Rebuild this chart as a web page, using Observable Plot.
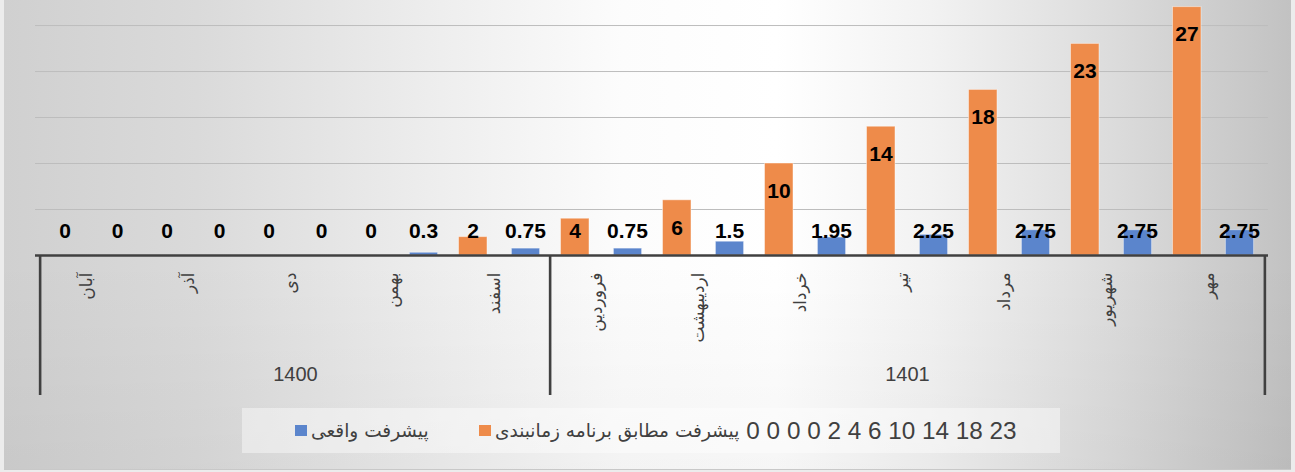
<!DOCTYPE html>
<html>
<head>
<meta charset="utf-8">
<script src="https://cdn.jsdelivr.net/npm/d3@7"></script>
<script src="https://cdn.jsdelivr.net/npm/@observablehq/plot@0.6"></script>
<style>
  html, body { margin: 0; padding: 0; background: #ececec; }
  #wrap { position: relative; width: 1295px; height: 472px; overflow: hidden; background: #ececec; }
  #bg { position: absolute; left: 4px; top: 0; width: 1287px; height: 469px;
    background:
      linear-gradient(to bottom, rgba(0,0,0,0) 55%, rgba(0,0,0,0.035) 100%),
      linear-gradient(to right, #d0d0d0 0%, #dadada 15%, #ececec 32%, #fcfcfc 48%, #ffffff 60%, #f2f2f2 72%, #dcdcdc 86%, #c2c2c2 100%);
    border-bottom: 1px solid #c8c8c8; }
  #chart { position: absolute; left: 0; top: 0; }
  #legend { position: absolute; left: 242px; top: 408px; width: 818px; height: 45px;
    background: rgba(255,255,255,0.42); font-family: "Liberation Sans", "DejaVu Sans", sans-serif; color: #404040; }
  #legend .item { position: absolute; top: 0; height: 45px; display: flex; align-items: center; direction: ltr; white-space: nowrap; }
  #legend .sw { width: 12px; height: 11px; display: inline-block; margin-right: 4px; }
  #legend .fa { font-family: "DejaVu Sans", sans-serif; font-size: 18.5px; }
  #legend .num { font-size: 24.3px; margin-left: 7px; }
</style>
</head>
<body>
<div id="wrap">
  <div id="bg"></div>
  <div id="chart"></div>
  <div id="legend"></div>
</div>
<script>
// ---- data ----
const months = ["آبان", "آذر", "دی", "بهمن", "اسفند", "فروردین", "اردیبهشت", "خرداد", "تیر", "مرداد", "شهریور", "مهر"];
const monthYear = ["1400", "1400", "1400", "1400", "1400", "1401", "1401", "1401", "1401", "1401", "1401", "1401"];
const years = ["1400", "1401"];
const planned = [0, 0, 0, 0, 2, 4, 6, 10, 14, 18, 23, 27];
const actual = [0, 0, 0, 0.3, 0.75, 0.75, 1.5, 1.95, 2.25, 2.75, 2.75, 2.75];
const plannedName = "پیشرفت مطابق برنامه زمانبندی";
const plannedNameTail = "0 0 0 0 2 4 6 10 14 18 23";
const actualName = "پیشرفت واقعی";
const gridTicks = [5, 10, 15, 20, 25];

const ORANGE = "#EE8B4A";
const BLUE = "#5B85CC";

const rows = months.map((m, i) => ({month: m, year: monthYear[i], planned: planned[i], actual: actual[i]}));

// year groups: first month, last month, middle month
const groups = years.map(y => {
  const ms = months.filter((m, i) => monthYear[i] === y);
  return {year: y, first: ms[0], last: ms[ms.length - 1], mid: ms[Math.floor(ms.length / 2)]};
});

const W = 1295, H = 472, ML = 35, MR = 27, MB = 217;
const half = (W - ML - MR) / months.length / 2;

const numFont = "'Liberation Sans', Arial, sans-serif";
const faFont = "'DejaVu Sans', sans-serif";

const plot = Plot.plot({
  width: W,
  height: H,
  marginLeft: ML,
  marginRight: MR,
  marginTop: 0,
  marginBottom: MB,
  style: {background: "transparent", overflow: "visible"},
  x: {type: "band", domain: months, padding: 0, axis: null},
  y: {domain: [0, 27.72], nice: false, axis: null},
  marks: [
    Plot.ruleY(gridTicks, {stroke: "#bdbdbd", strokeWidth: 1}),
    Plot.barY(rows, {x: "month", y: "planned", fill: ORANGE, stroke: "#fff", strokeOpacity: 0.45, strokeWidth: 1, insetLeft: 10.5, insetRight: 63}),
    Plot.barY(rows, {x: "month", y: "actual", fill: BLUE, stroke: "#fff", strokeOpacity: 0.45, strokeWidth: 1, insetLeft: 63.4, insetRight: 10.4}),
    Plot.ruleY([0], {stroke: "#404040", strokeWidth: 2.6}),
    // group separators of the category axis
    Plot.ruleX(groups, {x: "first", dx: -half, stroke: "#404040", strokeWidth: 2.6, insetTop: H - MB, insetBottom: -140}),
    Plot.ruleX(groups.slice(-1), {x: "last", dx: half, stroke: "#404040", strokeWidth: 2.6, insetTop: H - MB, insetBottom: -140}),
    // data labels
    Plot.text(rows, {x: "month", y: d => Math.max(d.planned, 5.6), text: d => String(d.planned), dx: -26.5, dy: 27.5,
      fontSize: 21, fontWeight: "bold", fill: "#000", fontFamily: numFont}),
    Plot.text(rows, {x: "month", y: d => Math.max(d.actual, 5.6), text: d => String(d.actual), dx: 26, dy: 27.5,
      fontSize: 21, fontWeight: "bold", fill: "#000", fontFamily: numFont}),
    // month labels
    Plot.text(months, {x: d => d, text: d => d, frameAnchor: "bottom", dy: 17, rotate: -90, textAnchor: "end",
      fontSize: 17, fill: "#404040", fontFamily: faFont}),
    // year labels
    Plot.text(groups, {x: "mid", text: "year", frameAnchor: "bottom", dy: 125, fontSize: 20, fill: "#404040", fontFamily: numFont})
  ]
});
document.getElementById("chart").appendChild(plot);

// legend
const lg = document.getElementById("legend");
const it1 = document.createElement("div");
it1.className = "item";
it1.style.left = "53px";
it1.innerHTML = `<span class="sw" style="background:${BLUE}"></span><span class="fa" dir="rtl">${actualName}</span>`;
lg.appendChild(it1);
const it2 = document.createElement("div");
it2.className = "item";
it2.style.left = "237px";
it2.innerHTML = `<span class="sw" style="background:${ORANGE}"></span><span class="fa" dir="rtl">${plannedName}</span><span class="num" dir="ltr">${plannedNameTail}</span>`;
lg.appendChild(it2);
</script>
</body>
</html>
